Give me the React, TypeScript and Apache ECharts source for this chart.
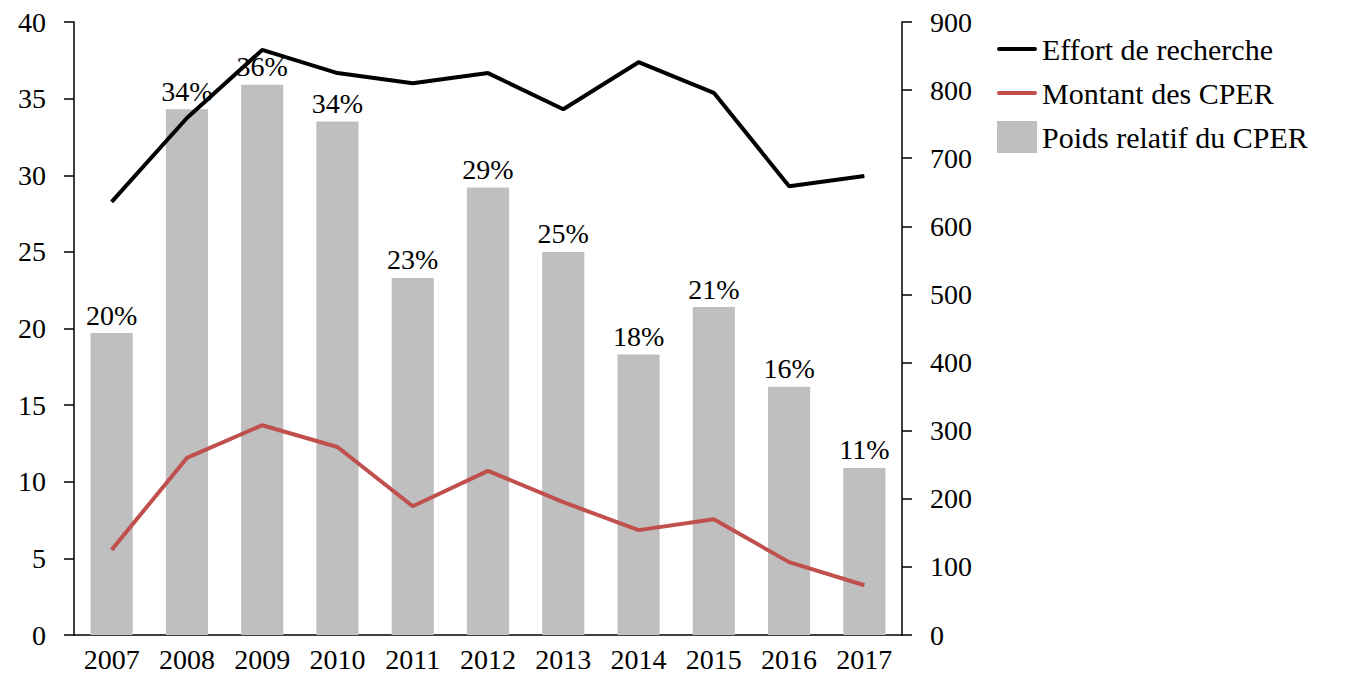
import React, { useEffect, useRef } from "react";
import * as echarts from "echarts";

const years = ["2007", "2008", "2009", "2010", "2011", "2012", "2013", "2014", "2015", "2016", "2017"];
const poidsRelatif = [19.7, 34.3, 35.9, 33.5, 23.3, 29.2, 25.0, 18.3, 21.4, 16.2, 10.9];
const effortRecherche = [636, 759, 859, 825, 810, 825, 772, 841, 796, 659, 674];
const montantCPER = [125, 260, 308, 276, 189, 241, 195, 154, 170, 107, 73];

const FONT = "'Palatino Linotype', 'Book Antiqua', Palatino, 'Liberation Serif', serif";
const FS = 28;
const LINE_ICON = "path://M0,0L0.05,0L0,0.05Z M2,14L38,14Q40,14 40,16Q40,18 38,18L2,18Q0,18 0,16Q0,14 2,14Z M40,32L39.95,32L40,31.95Z";

export default function App() {
  const ref = useRef<HTMLDivElement>(null);
  useEffect(() => {
    if (!ref.current) return;
    const chart = echarts.init(ref.current, undefined, { renderer: "svg" });
    chart.setOption({
      animation: false,
      textStyle: { fontFamily: FONT, color: "#000" },
      grid: { left: 74, right: 443, top: 22, bottom: 62, containLabel: false },
      legend: {
        orient: "vertical",
        left: 992,
        top: 28,
        itemGap: 12,
        itemWidth: 40,
        itemHeight: 32,
        textStyle: { fontFamily: FONT, fontSize: 30, color: "#000" },
        data: [
          { name: "Effort de recherche", icon: LINE_ICON },
          { name: "Montant des CPER", icon: LINE_ICON },
          { name: "Poids relatif du CPER", icon: "rect" },
        ],
      },
      xAxis: {
        type: "category",
        data: years,
        axisLine: { lineStyle: { color: "#000", width: 1.5 } },
        axisTick: { show: false },
        axisLabel: { fontFamily: FONT, fontSize: FS, color: "#000", margin: 10 },
      },
      yAxis: [
        {
          type: "value",
          min: 0,
          max: 40,
          interval: 5,
          position: "left",
          splitLine: { show: false },
          axisLine: { show: true, lineStyle: { color: "#000", width: 1.5 } },
          axisTick: { show: true, length: 10, lineStyle: { color: "#000", width: 1.5 } },
          axisLabel: { fontFamily: FONT, fontSize: FS, color: "#000", margin: 28 },
        },
        {
          type: "value",
          min: 0,
          max: 900,
          interval: 100,
          position: "right",
          splitLine: { show: false },
          axisLine: { show: true, lineStyle: { color: "#000", width: 1.5 } },
          axisTick: { show: true, length: 10, lineStyle: { color: "#000", width: 1.5 } },
          axisLabel: { fontFamily: FONT, fontSize: FS, color: "#000", margin: 28 },
        },
      ],
      series: [
        {
          name: "Poids relatif du CPER",
          type: "bar",
          yAxisIndex: 0,
          data: poidsRelatif,
          barWidth: "56%",
          itemStyle: { color: "#BFBFBF" },
          z: 1,
          label: {
            show: true,
            position: "top",
            distance: 4,
            fontFamily: FONT,
            fontSize: FS,
            color: "#000",
            formatter: (p: any) => Math.round(p.value) + "%",
          },
        },
        {
          name: "Effort de recherche",
          type: "line",
          yAxisIndex: 1,
          data: effortRecherche,
          symbol: "none",
          lineStyle: { color: "#000", width: 4 },
          itemStyle: { color: "#000" },
          z: 3,
        },
        {
          name: "Montant des CPER",
          type: "line",
          yAxisIndex: 1,
          data: montantCPER,
          symbol: "none",
          lineStyle: { color: "#C0504D", width: 4 },
          itemStyle: { color: "#C0504D" },
          z: 3,
        },
      ],
    });
    return () => chart.dispose();
  }, []);
  return <div ref={ref} style={{ width: 1345, height: 697, position: "absolute", left: 0, top: 0 }} />;
}
